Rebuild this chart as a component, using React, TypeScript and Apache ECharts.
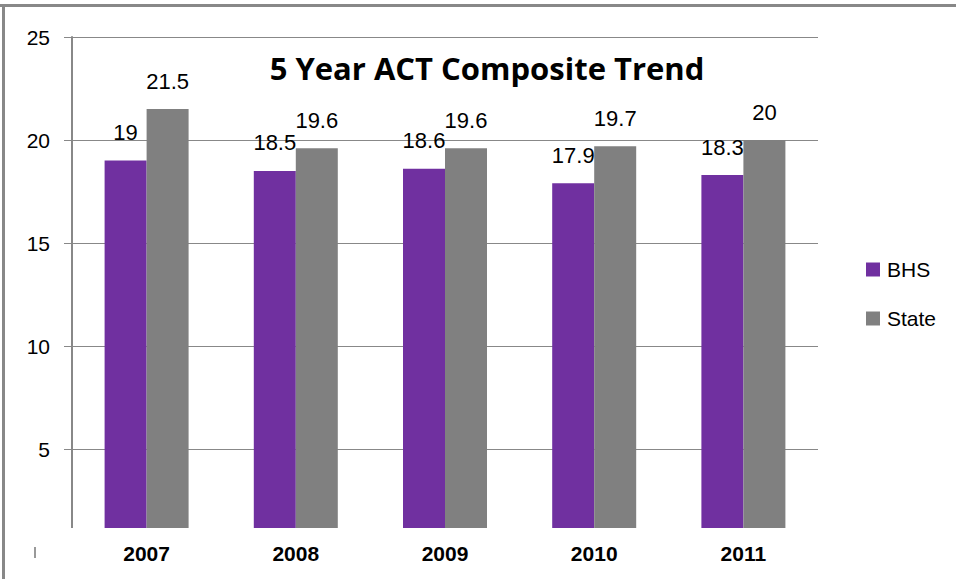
import React, { useEffect, useRef } from "react";
import * as echarts from "echarts";

const categories = ["2007", "2008", "2009", "2010", "2011"];
const bhsValues = [19, 18.5, 18.6, 17.9, 18.3];
const stateValues = [21.5, 19.6, 19.6, 19.7, 20];
const seriesNames = ["BHS", "State"];
const titleText = "5 Year ACT Composite Trend";

export default function App() {
  const ref = useRef<HTMLDivElement>(null);
  useEffect(() => {
    if (!ref.current) return;
    const chart = echarts.init(ref.current, undefined, { renderer: "svg" });
    const font = "'Liberation Sans', Arial, sans-serif";
    const labelStyle = {
      show: true,
      position: "top" as const,
      distance: 17,
      fontSize: 22,
      color: "#000",
      fontFamily: font,
    };
    chart.setOption({
      animation: false,
      backgroundColor: "#fff",
      title: {
        text: titleText,
        left: 482,
        top: 47,
        textAlign: "center",
        textStyle: { fontFamily: "'Open Sans', sans-serif", fontWeight: "bold", fontSize: 31, color: "#000" },
      },
      legend: {
        orient: "vertical",
        left: 861,
        top: 254,
        itemWidth: 14,
        itemHeight: 14,
        itemGap: 28,
        icon: "rect",
        textStyle: { fontFamily: font, fontSize: 21, color: "#000", padding: [0, 0, 0, 2] },
        data: seriesNames,
      },
      grid: { left: 72, right: 138, top: 37, bottom: 27, containLabel: false },
      xAxis: {
        type: "category",
        data: categories,
        z: 200,
        axisLine: { show: false },
        axisTick: { show: false },
        axisLabel: { margin: -9, fontFamily: font, fontSize: 21, fontWeight: "bold", color: "#000" },
      },
      yAxis: {
        type: "value",
        min: 0,
        max: 25,
        interval: 5,
        axisLine: { show: true, lineStyle: { color: "#888", width: 2 } },
        axisTick: { show: true, length: 8, lineStyle: { color: "#888", width: 1 } },
        axisLabel: { showMinLabel: false, margin: 22, fontFamily: font, fontSize: 21, color: "#000" },
        splitLine: { show: true, lineStyle: { color: "#888", width: 1 } },
      },
      series: [
        {
          name: seriesNames[0],
          type: "bar",
          data: bhsValues,
          barWidth: 42,
          barGap: "0%",
          itemStyle: { color: "#7030A0" },
          label: labelStyle,
        },
        {
          name: seriesNames[1],
          type: "bar",
          data: stateValues,
          barWidth: 42,
          barGap: "0%",
          itemStyle: { color: "#808080" },
          label: labelStyle,
        },
      ],
      graphic: [
        { type: "rect", z: 100, shape: { x: 55, y: 528, width: 780, height: 30 }, style: { fill: "#fff" } },
        { type: "rect", z: 100, shape: { x: 0, y: 4, width: 956, height: 3 }, style: { fill: "#888" } },
        { type: "rect", z: 100, shape: { x: 2, y: 4, width: 3, height: 575 }, style: { fill: "#888" } },
        { type: "rect", z: 100, shape: { x: 34, y: 547, width: 2, height: 11 }, style: { fill: "#999" } },
      ],
    });
    return () => chart.dispose();
  }, []);
  return (
    <div
      ref={ref}
      style={{ position: "fixed", left: 0, top: 0, width: 956, height: 579 }}
    />
  );
}
